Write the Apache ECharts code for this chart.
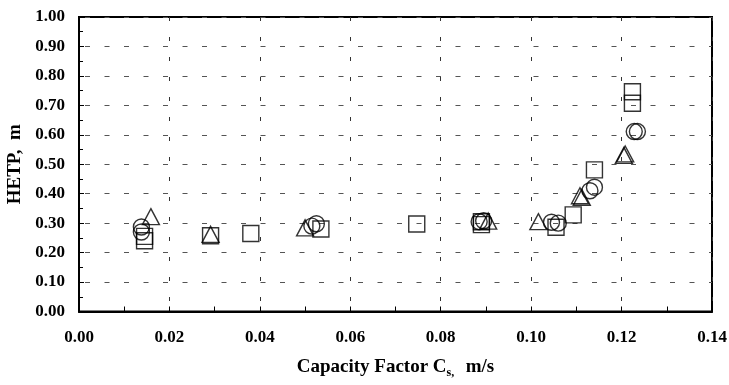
<!DOCTYPE html>
<html>
<head>
<meta charset="utf-8">
<script src="https://cdn.jsdelivr.net/npm/echarts@6/dist/echarts.min.js"></script>
<style>html,body{margin:0;padding:0;background:#fff}#c{width:729px;height:385px}</style>
</head>
<body>
<div id="c"></div>
<script>
// Square series
const squareX = [0.0145, 0.0145, 0.0291, 0.0380, 0.0535, 0.0747, 0.0890, 0.0890, 0.1055, 0.1093, 0.1140, 0.1224, 0.1224];
const squareY = [0.255, 0.240, 0.257, 0.265, 0.280, 0.297, 0.305, 0.295, 0.286, 0.328, 0.481, 0.746, 0.707];
// Circle series
const circleX = [0.0138, 0.0138, 0.0515, 0.0525, 0.0885, 0.0895, 0.1045, 0.1060, 0.1130, 0.1140, 0.1228, 0.1235];
const circleY = [0.287, 0.270, 0.290, 0.298, 0.305, 0.308, 0.303, 0.300, 0.410, 0.422, 0.611, 0.611];
// Triangle series
const triangleX = [0.0159, 0.0291, 0.0500, 0.0905, 0.1016, 0.1108, 0.1112, 0.1208, 0.1205];
const triangleY = [0.322, 0.262, 0.284, 0.307, 0.305, 0.393, 0.388, 0.535, 0.530];

const xTitle = 'Capacity Factor C{sub|s,}  m/s';
const yTitle = 'HETP,  m';

function zip(xs, ys) { return xs.map((x, i) => [x, ys[i]]); }

const font = 'Liberation Serif';
const markerStyle = { color: 'rgba(0,0,0,0)', borderColor: '#000', borderWidth: 1.4 };

const chart = echarts.init(document.getElementById('c'), null, { renderer: 'canvas' });
chart.setOption({
  animation: false,
  backgroundColor: '#fff',
  grid: { left: 79, top: 17, right: 17, bottom: 73.5, containLabel: false, outerBoundsMode: 'none',
    show: true, borderColor: '#000', borderWidth: 2, backgroundColor: 'transparent' },
  xAxis: {
    type: 'value', min: 0, max: 0.14, interval: 0.02,
    name: xTitle, nameLocation: 'middle', nameGap: 45,
    nameTextStyle: { fontFamily: font, fontWeight: 'bold', fontSize: 19, color: '#000',
      rich: { sub: { fontFamily: font, fontWeight: 'bold', fontSize: 12, color: '#000', padding: [10, 2, 0, 0] } } },
    axisLine: { lineStyle: { color: '#000', width: 2 } },
    axisTick: { inside: true, length: 5, lineStyle: { color: '#000', width: 1 } },
    minorTick: { show: true, splitNumber: 2, length: 5, lineStyle: { color: '#000', width: 1 } },
    axisLabel: { fontFamily: font, fontWeight: 'bold', fontSize: 17, color: '#000', margin: 18,
      formatter: v => v.toFixed(2) },
    splitLine: { show: true, lineStyle: { color: '#333', width: 1, type: [4, 16] } }
  },
  yAxis: {
    type: 'value', min: 0, max: 1, interval: 0.1,
    name: yTitle, nameLocation: 'middle', nameGap: 53,
    nameTextStyle: { fontFamily: font, fontWeight: 'bold', fontSize: 19, color: '#000' },
    axisLine: { lineStyle: { color: '#000', width: 2 } },
    axisTick: { inside: true, length: 5, lineStyle: { color: '#000', width: 1 } },
    minorTick: { show: true, splitNumber: 2, length: 4, lineStyle: { color: '#000', width: 1 } },
    axisLabel: { fontFamily: font, fontWeight: 'bold', fontSize: 17, color: '#000', margin: 14,
      formatter: v => v.toFixed(2) },
    splitLine: { show: true, lineStyle: { color: '#555', width: 1, type: [5, 14.5], dashOffset: -6 } }
  },
  series: [
    { type: 'scatter', symbol: 'rect', symbolSize: 16, data: zip(squareX, squareY), itemStyle: markerStyle },
    { type: 'scatter', symbol: 'circle', symbolSize: 16, data: zip(circleX, circleY), itemStyle: markerStyle },
    { type: 'scatter', symbol: 'triangle', symbolSize: [17, 16], data: zip(triangleX, triangleY), itemStyle: markerStyle }
  ]
});
</script>
</body>
</html>
